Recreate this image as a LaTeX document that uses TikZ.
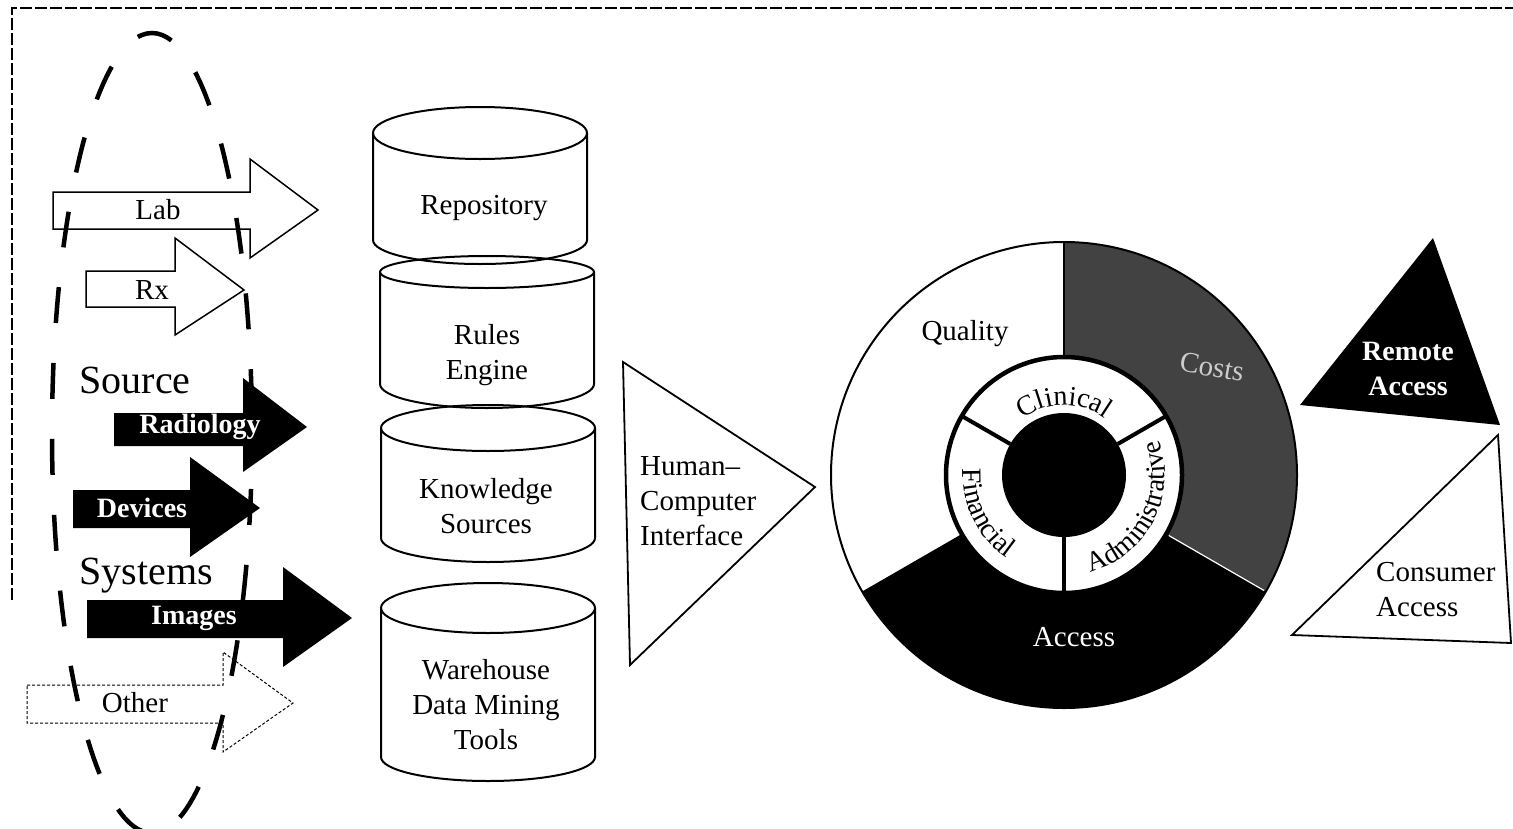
\documentclass[tikz,border=0pt]{standalone}
\usepackage{fontspec}
\setmainfont{Liberation Serif}
\usetikzlibrary{decorations.text}

\newcommand\ringfont{\fontsize{28}{28}\selectfont}

\begin{document}
\begin{tikzpicture}[x=1pt, y=-1pt,
        lbl/.style={font=\fontsize{29}{35}\selectfont, align=center, inner sep=0pt},
        revlbl/.style={lbl, text=white, font=\fontsize{28}{35}\selectfont\bfseries},
        biglbl/.style={lbl, font=\fontsize{40}{40}\selectfont},
        outarrow/.style={draw, line width=1.5pt, fill=white},
        blkarrow/.style={fill=black},
        dbline/.style={line width=2pt},
        stipple/.style={fill=black!74}]
        \useasboundingbox (0,0) rectangle (1513,828);

        % frame of the scan
        \draw[line width=1.2pt, dash pattern=on 12pt off 3pt] (12,600) -- (12,8) -- (1513,8);

        % source arrows
        \draw[outarrow] (53,192) -- (250,192) -- (250,159) -- (318,210) -- (250,258) -- (250,229) -- (53,229) -- cycle;
        \draw[outarrow] (86,271) -- (175,271) -- (175,238) -- (244,290) -- (175,335) -- (175,307) -- (86,307) -- cycle;
        \fill[blkarrow] (114,413) -- (243,413) -- (243,378) -- (307,427) -- (243,472) -- (243,446) -- (114,446) -- cycle;
        \fill[blkarrow] (73,490) -- (190,490) -- (190,457) -- (260,508) -- (190,557) -- (190,528) -- (73,528) -- cycle;
        \fill[blkarrow] (87,600) -- (283,600) -- (283,567) -- (352,618) -- (283,667) -- (283,638) -- (87,638) -- cycle;
        \draw[outarrow, line width=1pt, densely dashed] (27,685) -- (223,685) -- (223,652) -- (293,703) -- (223,752) -- (223,723) -- (27,723) -- cycle;

        % dashed ellipse round the sources
        \draw[line width=4.5pt, dash pattern=on 36pt off 40pt, dash phase=20pt] (152,433) ellipse (100 and 400);

        \node[lbl] (lab) at (158,210) {Lab};
        \node[lbl] (rx) at (152,290) {Rx};
        \node[biglbl] (source) at (135,380) {Source};
        \node[revlbl] (radiology) at (200,427) {Radiology};
        \node[revlbl] (devices) at (142,508) {Devices};
        \node[biglbl] (systems) at (146,576) {Systems};
        \node[revlbl] (images) at (194,618) {Images};
        \node[lbl] (other) at (135,703) {Other};

        % database cylinders
        \foreach \cx/\yt/\rt/\yb in {480/133/26/240, 487/272/16/384, 488/428/23/538, 488/608/25/757}{
            \draw[dbline] (\cx-107,\yt) -- (\cx-107,\yb) arc (180:0:107 and 24) -- (\cx+107,\yt);
            \draw[dbline] (\cx,\yt) ellipse (107 and \rt);
        }
        \node[lbl] (repo) at (484,208) {Repository};
        \node[lbl] (rules) at (487,355) {Rules\\Engine};
        \node[lbl] (know) at (486,506) {Knowledge\\Sources};
        \node[lbl] (ware) at (486,705) {Warehouse\\Data Mining\\Tools};

        % human--computer interface
        \coordinate (hcitop) at (623,362);
        \coordinate (hcitip) at (815,487);
        \coordinate (hcibot) at (630,665);
        \draw[line width=1.8pt] (hcitop) -- (hcitip) -- (hcibot) -- cycle;
        \node[lbl, align=left, anchor=west] (hci) at (640,501) {Human--\\Computer\\Interface};

        % the record wheel
        \begin{scope}[shift={(1064,475)}, x=1pt, y=1pt]
            \fill[stipple] (90:118) -- (90:233) arc (90:-30:233) -- (-30:118) arc (-30:90:118) -- cycle;
            \fill[black] (210:118) -- (210:233) arc (210:330:233) -- (330:118) arc (330:210:118) -- cycle;
            \draw[line width=2pt] (0,0) circle (233);
            \draw[line width=2.5pt] (90:118) -- (90:233);
            \draw[white, line width=1.2pt] (-30:121) -- (-30:231);
            \draw[line width=4.5pt, fill=white] (0,0) circle (118);
            \fill[black] (0,0) circle (62);
            \foreach \a in {30,150,270}
                \draw[line width=4pt] (\a:62) -- (\a:118);
            \path[decorate, decoration={text along path, text align=center,
                text={|\ringfont|Clinical}}] (140:70) arc (140:40:70);
            \path[decorate, decoration={text along path, text align=center,
                text={|\ringfont|Financial}}] (150:101) arc (150:262:101);
            \path[decorate, decoration={text along path, text align=center,
                text={|\ringfont|Administrative}}] (274:101) arc (274:392:101);
        \end{scope}
        \node[lbl] (quality) at (965,334) {Quality};
        \node[lbl, text=white] (access) at (1074,637) {Access};
        \node[lbl, text=white!80!black, rotate=-10] (costs) at (1212,367) {Costs};

        % access triangles
        \coordinate (reml) at (1300,405);
        \coordinate (remt) at (1433,238);
        \coordinate (remr) at (1500,425);
        \fill[black] (reml) -- (remt) -- (remr) -- cycle;
        \node[revlbl] (remote) at (1408,369) {Remote\\Access};
        \coordinate (cont) at (1498,435);
        \coordinate (conl) at (1292,635);
        \coordinate (conr) at (1511,643);
        \draw[line width=1.8pt] (cont) -- (conl) -- (conr) -- cycle;
        \node[lbl, align=left, anchor=west] (consumer) at (1376,590) {Consumer\\Access};
\end{tikzpicture}
\end{document}
